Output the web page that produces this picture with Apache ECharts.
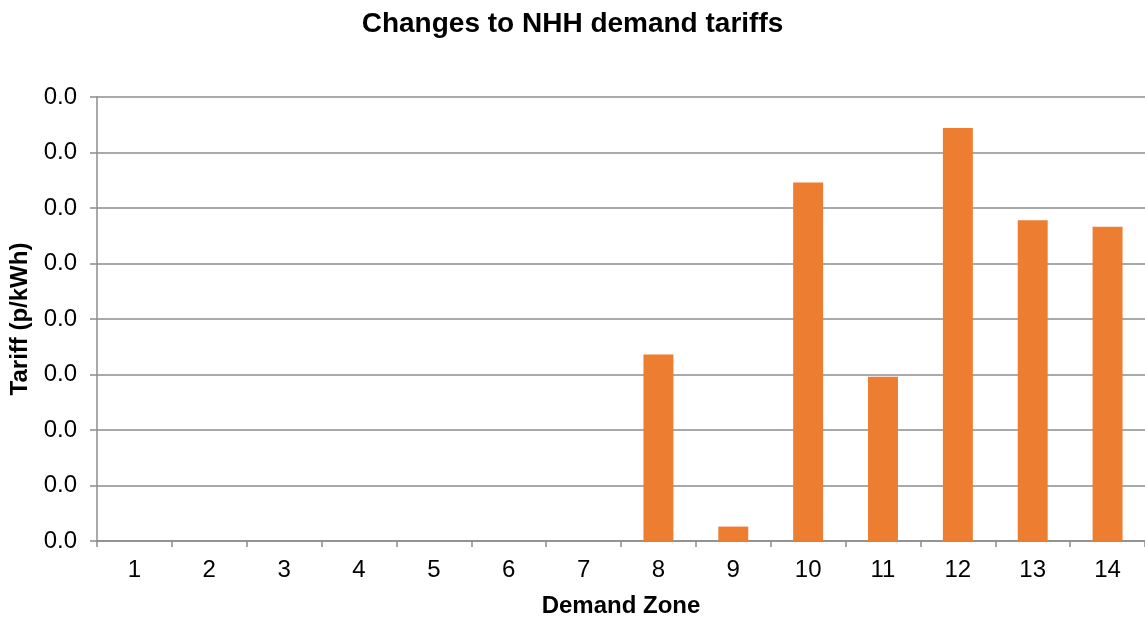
<!DOCTYPE html>
<html><head><meta charset="utf-8">
<script src="https://cdn.jsdelivr.net/npm/echarts@6/dist/echarts.min.js"></script>
<style>html,body{margin:0;padding:0;background:#fff}#c{width:1145px;height:621px}</style>
</head><body><div id="c"></div>
<script>
var categories = ['1','2','3','4','5','6','7','8','9','10','11','12','13','14'];
var tariffValues = [0, 0, 0, 0, 0, 0, 0, 0.0168, 0.0013, 0.0323, 0.0148, 0.0372, 0.0289, 0.0283];
var chart = echarts.init(document.getElementById('c'));
var ff = 'Arial, "Liberation Sans", sans-serif';
chart.setOption({
  animation: false,
  backgroundColor: '#fff',
  title: {text: 'Changes to NHH demand tariffs', left: 'center', top: 5,
    textStyle: {fontFamily: ff, fontSize: 28, fontWeight: 'bold', color: '#000'}},
  grid: {left: 97, right: 0, top: 97, bottom: 80, containLabel: false, outerBoundsMode: 'none'},
  xAxis: {type: 'category', data: categories,
    name: 'Demand Zone', nameLocation: 'middle', nameGap: 53,
    nameTextStyle: {fontFamily: ff, fontSize: 24, fontWeight: 'bold', color: '#000'},
    axisLine: {lineStyle: {color: '#8c8c8c', width: 1.5}},
    axisTick: {show: true, length: 6, lineStyle: {color: '#8c8c8c', width: 1.5}},
    axisLabel: {fontFamily: ff, fontSize: 24, color: '#000', margin: 17}},
  yAxis: {type: 'value', min: 0, max: 0.04, interval: 0.005,
    name: 'Tariff (p/kWh)', nameLocation: 'middle', nameGap: 65, nameRotate: 90,
    nameTextStyle: {fontFamily: ff, fontSize: 24, fontWeight: 'bold', color: '#000'},
    axisLine: {show: true, lineStyle: {color: '#8c8c8c', width: 1.5}},
    axisTick: {show: true, length: 7, lineStyle: {color: '#8c8c8c', width: 1.5}},
    splitLine: {lineStyle: {color: '#8c8c8c', width: 1.5}},
    axisLabel: {fontFamily: ff, fontSize: 24, color: '#000', margin: 20,
      formatter: function(v){return v.toFixed(1);}}},
  series: [{type: 'bar', data: tariffValues, barWidth: '40%',
    itemStyle: {color: '#ED7D31'}}]
});
</script></body></html>
